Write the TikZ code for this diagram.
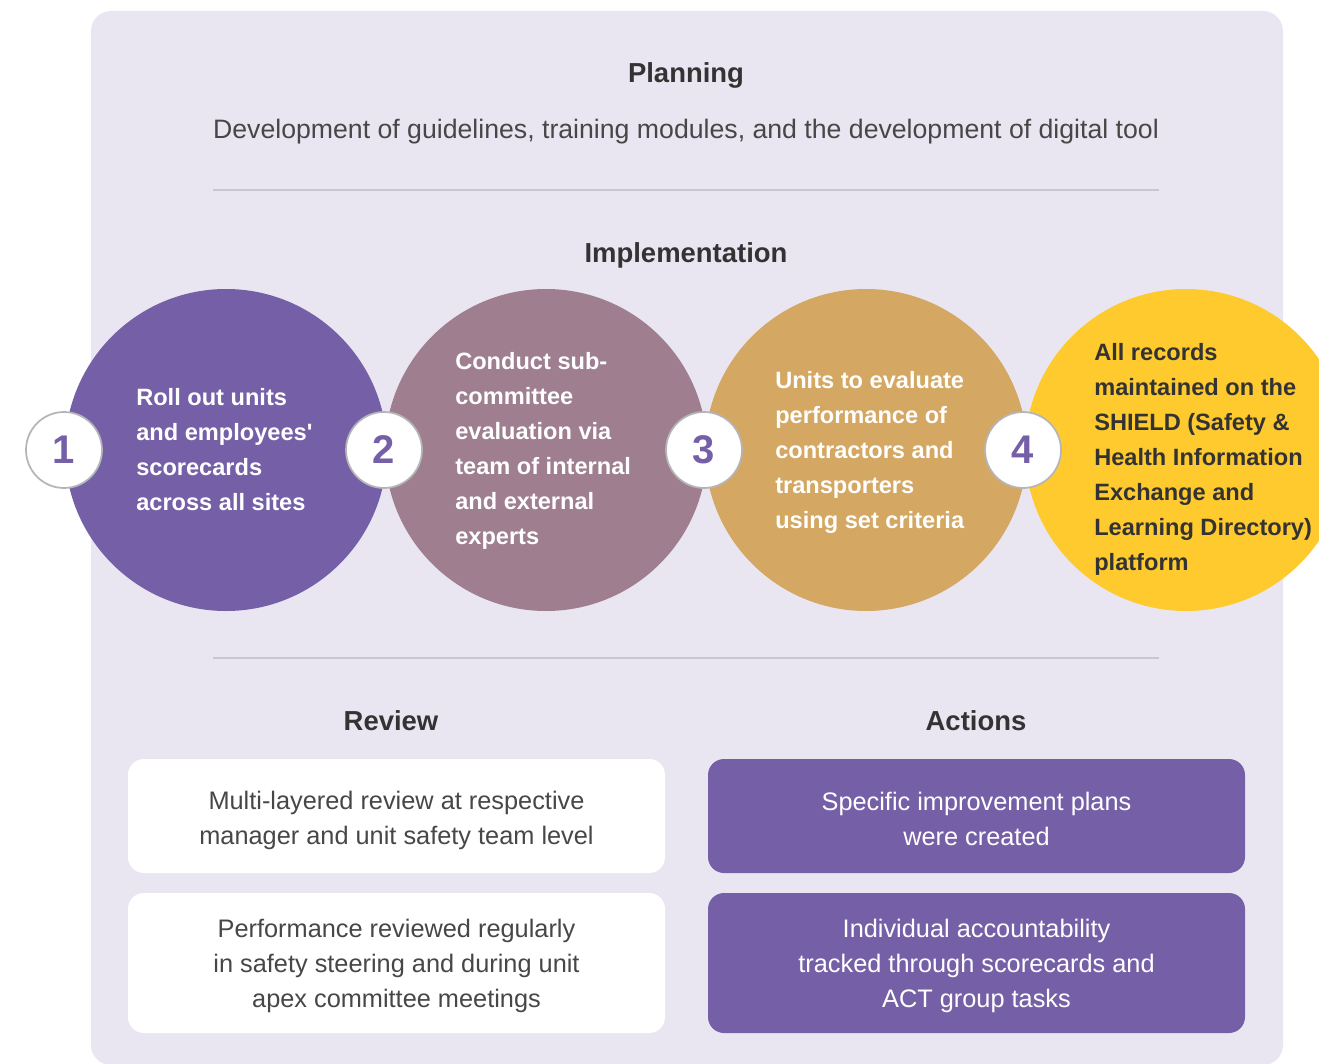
\documentclass[tikz,border=0pt]{standalone}
\usepackage{fontspec}
\setmainfont{Liberation Sans}[Ligatures=TeXOff]
\usetikzlibrary{positioning}
\definecolor{cpanel}{HTML}{E9E6F2}
\definecolor{cpurple}{HTML}{7560A8}
\definecolor{cmauve}{HTML}{9E7E8F}
\definecolor{ctan}{HTML}{D4A763}
\definecolor{cyellow}{HTML}{FECA2E}
\definecolor{cink}{HTML}{333333}
\definecolor{crule}{HTML}{C9C6D2}
\definecolor{cring}{HTML}{B5B5B8}
\tikzset{
  head/.style={font=\fontsize{20.6}{24}\selectfont\bfseries, text=cink},
  body/.style={font=\fontsize{20}{26.25}\selectfont, text=cink!90, align=center},
  disc/.style={circle, fill=#1, minimum size=241.5pt, inner sep=0pt},
  ctext/.style={font=\fontsize{17.7}{26.25}\selectfont\bfseries, text=white, align=left, anchor=west, inner sep=0pt},
  badge/.style={circle, draw=cring, line width=1.3pt, fill=white, minimum size=57pt, inner sep=0pt,
    font=\fontsize{30}{30}\selectfont\bfseries, text=cpurple},
  card/.style={rounded corners=12pt, fill=#1, minimum width=402.75pt},
  card/.default=white,
  cardtext/.style={align=center, inner sep=0pt, font=\fontsize{19}{26.25}\selectfont},
  rule/.style={draw=crule, line width=1.4pt},
}
\begin{document}
\begin{tikzpicture}[x=0.75pt, y=-0.75pt]
  \useasboundingbox (0,0) rectangle (1319,1063);
  \clip (0,0) rectangle (1319,1063);
  \fill[cpanel, rounded corners=15pt] (91,11) rectangle (1283,1065);

  % planning
  \node[head] (plan) at (686,75) {Planning};
  \node[body] (plandesc) at (686,132) {Development of guidelines, training modules, and the development of digital tool};
  \draw[rule] (213,190) -- (1159,190);

  % implementation
  \node[head] (impl) at (686,255) {Implementation};
  \foreach \i/\x/\c in {1/226/cpurple, 2/546/cmauve, 3/866/ctan, 4/1186/cyellow}
    \node[disc=\c] (c\i) at (\x,450) {};
  \node[ctext] (t1) at (136,450) {Roll out units\\and employees'\\scorecards\\across all sites};
  \node[ctext] (t2) at (455,451) {Conduct sub-\\committee\\evaluation via\\team of internal\\and external\\experts};
  \node[ctext] (t3) at (775,452) {Units to evaluate\\performance of\\contractors and\\transporters\\using set criteria};
  \node[ctext, text=cink] (t4) at (1094,459) {All records\\maintained on the\\SHIELD (Safety \&\\Health Information\\Exchange and\\Learning Directory)\\platform};
  \foreach \i/\x in {1/64, 2/384, 3/704, 4/1023}
    \node[badge] (b\i) at (\x,450) {\i};
  \draw[rule] (213,658) -- (1159,658);

  % review and actions
  \node[head] (rev) at (391,721) {Review};
  \node[head] (act) at (976,721) {Actions};
  \node[card, minimum height=85.5pt] (r1) at (396.5,816) {};
  \node[card, minimum height=105pt] (r2) at (396.5,963) {};
  \node[card=cpurple, minimum height=85.5pt] (a1) at (976.5,816) {};
  \node[card=cpurple, minimum height=105pt] (a2) at (976.5,963) {};
  \node[cardtext, text=cink!90] (r1t) at ([yshift=-3pt]r1.center)
    {Multi-layered review at respective\\manager and unit safety team level};
  \node[cardtext, text=cink!90] (r2t) at ([yshift=-2.5pt]r2.center)
    {Performance reviewed regularly\\in safety steering and during unit\\apex committee meetings};
  \node[cardtext, text=white] (a1t) at ([yshift=-2.5pt]a1.center)
    {Specific improvement plans\\were created};
  \node[cardtext, text=white] (a2t) at ([yshift=-2.5pt]a2.center)
    {Individual accountability\\tracked through scorecards and\\ACT group tasks};
\end{tikzpicture}
\end{document}
